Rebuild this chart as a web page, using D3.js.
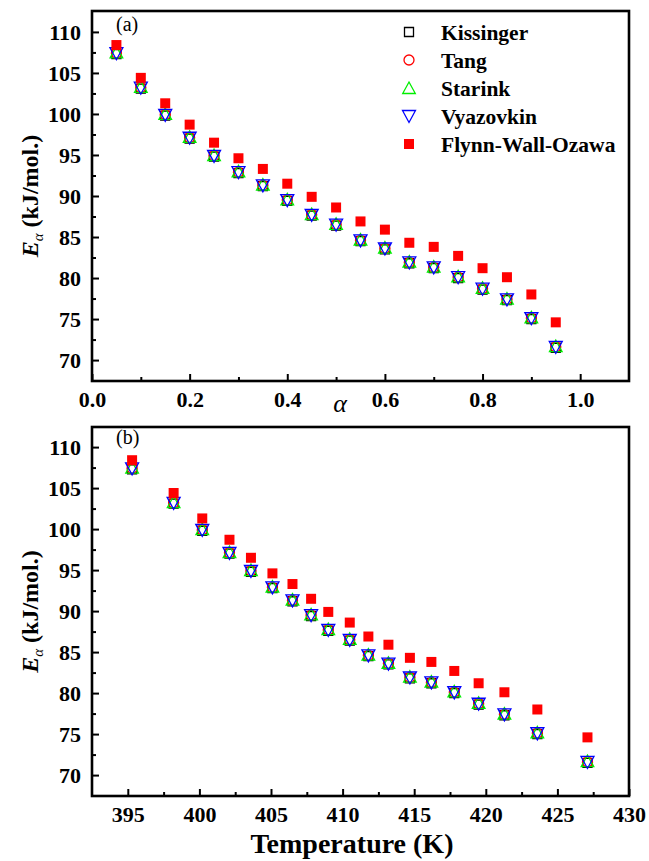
<!DOCTYPE html>
<html>
<head>
<meta charset="utf-8">
<script src="https://d3js.org/d3.v7.min.js"></script>
<style>
body { margin: 0; background: #fff; }
svg { display: block; }
</style>
</head>
<body>
<div id="container"></div>
<script>

// conversion degree and temperature for each point
var alpha = [0.05, 0.10, 0.15, 0.20, 0.25, 0.30, 0.35, 0.40, 0.45, 0.50,
             0.55, 0.60, 0.65, 0.70, 0.75, 0.80, 0.85, 0.90, 0.95];
var temperature = [395.3, 398.2, 400.2, 402.1, 403.6, 405.1, 406.5, 407.8, 409.0, 410.5,
                   411.8, 413.2, 414.7, 416.2, 417.8, 419.5, 421.3, 423.6, 427.1];

// activation energy (kJ/mol) per method
var kissinger = [107.3, 103.1, 99.8, 97.0, 94.8, 92.8, 91.2, 89.4, 87.6, 86.4,
                 84.5, 83.5, 81.8, 81.2, 80.0, 78.6, 77.3, 75.0, 71.5];
var tang      = [107.4, 103.2, 99.9, 97.1, 94.9, 92.9, 91.3, 89.5, 87.7, 86.5,
                 84.6, 83.6, 81.9, 81.3, 80.1, 78.7, 77.4, 75.1, 71.6];
var starink   = [107.5, 103.3, 100.0, 97.2, 95.0, 93.0, 91.4, 89.6, 87.8, 86.6,
                 84.7, 83.7, 82.0, 81.4, 80.2, 78.8, 77.5, 75.2, 71.7];
var vyazovkin = [107.4, 103.2, 99.9, 97.1, 94.9, 92.9, 91.3, 89.5, 87.7, 86.5,
                 84.6, 83.6, 81.9, 81.3, 80.1, 78.7, 77.4, 75.1, 71.6];
var fwo       = [108.4, 104.4, 101.3, 98.7, 96.5, 94.6, 93.3, 91.5, 89.9, 88.6,
                 86.9, 85.9, 84.3, 83.8, 82.7, 81.2, 80.1, 78.0, 74.6];

var seriesNames  = ["Kissinger", "Tang", "Starink", "Vyazovkin", "Flynn-Wall-Ozawa"];
var seriesValues = [kissinger, tang, starink, vyazovkin, fwo];
var seriesColors = ["#000000", "#ff0000", "#00ee00", "#0000ff", "#ff0000"];
var seriesShapes = ["square", "circle", "triangle", "down", "filled"];

var alphaTicks = [0.0, 0.2, 0.4, 0.6, 0.8, 1.0];
var alphaMinor = [0.1, 0.3, 0.5, 0.7, 0.9];
var tempTicks = [395, 400, 405, 410, 415, 420, 425, 430];
var tempMinor = [397.5, 402.5, 407.5, 412.5, 417.5, 422.5, 427.5];
var energyTicks = [70, 75, 80, 85, 90, 95, 100, 105, 110];
var energyMinor = [72.5, 77.5, 82.5, 87.5, 92.5, 97.5, 102.5, 107.5];

var width = 649, height = 861;
var left = 92, right = 629;
var serif = 'Liberation Serif';

var svg = d3.select('#container')
  .append('svg')
  .attr('width', width)
  .attr('height', height);

function marker(shape){
  if(shape == "square") return "M-4.5,-4.5H4.5V4.5H-4.5Z";
  if(shape == "filled") return "M-5,-5H5V5H-5Z";
  if(shape == "circle") return d3.symbol(d3.symbolCircle, Math.PI*25)();
  if(shape == "triangle") return "M0,-6L6.3,5.5H-6.3Z";
  if(shape == "down") return "M-6.5,-5.5H6.5L0,6.5Z";
}

var panels = [
  {top: 11, bottom: 381, x: d3.scaleLinear().domain([0, 1.1]), xv: alpha,
   ticks: alphaTicks, minor: alphaMinor, fmt: d3.format('.1f'),
   y: d3.scaleLinear().domain([67.45, 112.55]), tag: "(a)", tagY: 31, legend: true},
  {top: 427, bottom: 796, x: d3.scaleLinear().domain([392.5, 430]), xv: temperature,
   ticks: tempTicks, minor: tempMinor, fmt: d3.format('d'),
   y: d3.scaleLinear().domain([67.45, 112.45]), tag: "(b)", tagY: 444, legend: false}
];

panels.forEach(function(p){
  p.x.range([left, right]);
  p.y.range([p.bottom, p.top]);
  var g = svg.append('g');

  // minor ticks
  g.append('g').attr('transform', 'translate(0,' + p.bottom + ')')
    .call(d3.axisBottom(p.x).tickValues(p.minor).tickSize(-4).tickFormat(''))
    .call(function(a){ a.select('.domain').remove(); a.selectAll('line').attr('stroke-width', 2); });
  g.append('g').attr('transform', 'translate(' + left + ',0)')
    .call(d3.axisLeft(p.y).tickValues(energyMinor).tickSize(-4).tickFormat(''))
    .call(function(a){ a.select('.domain').remove(); a.selectAll('line').attr('stroke-width', 2); });

  // major ticks and labels
  var xa = g.append('g').attr('transform', 'translate(0,' + p.bottom + ')')
    .call(d3.axisBottom(p.x).tickValues(p.ticks).tickSize(-7).tickFormat(p.fmt));
  xa.select('.domain').remove();
  xa.selectAll('line').attr('stroke-width', 2);
  xa.selectAll('text').attr('y', 26).attr('dy', 0)
    .attr('font-family', serif)
    .attr('font-size', 22).attr('font-weight', 'bold').attr('fill', '#000');

  var ya = g.append('g').attr('transform', 'translate(' + left + ',0)')
    .call(d3.axisLeft(p.y).tickValues(energyTicks).tickSize(-7));
  ya.select('.domain').remove();
  ya.selectAll('line').attr('stroke-width', 2);
  ya.selectAll('text').attr('x', -11).attr('dy', '0.34em')
    .attr('font-family', serif)
    .attr('font-size', 22).attr('font-weight', 'bold').attr('fill', '#000');

  // frame
  g.append('rect')
    .attr('x', left).attr('y', p.top)
    .attr('width', right - left).attr('height', p.bottom - p.top)
    .attr('fill', 'none').attr('stroke', '#000').attr('stroke-width', 2.6);

  // y title
  var cy = (p.top + p.bottom) / 2;
  var yt = g.append('text')
    .attr('transform', 'translate(38,' + cy + ') rotate(-90)')
    .attr('text-anchor', 'middle')
    .attr('font-family', serif)
    .attr('font-size', 24).attr('font-weight', 'bold');
  yt.append('tspan').attr('font-style', 'italic').text('E');
  yt.append('tspan').attr('font-style', 'italic').attr('font-weight', 'normal')
    .attr('font-size', 15).attr('dy', 5).text('α');
  yt.append('tspan').attr('dy', -5).text(' (kJ/mol.)');

  // panel tag
  g.append('text').attr('x', 116).attr('y', p.tagY)
    .attr('font-family', serif)
    .attr('font-size', 20).text(p.tag);

  // points
  seriesValues.forEach(function(vals, s){
    g.selectAll(null)
      .data(vals)
      .enter()
      .append('path')
      .attr('d', marker(seriesShapes[s]))
      .attr('transform', function(d, i){ return 'translate(' + p.x(p.xv[i]) + ',' + p.y(d) + ')'; })
      .attr('fill', seriesShapes[s] == 'filled' ? seriesColors[s] : 'none')
      .attr('stroke', seriesShapes[s] == 'filled' ? 'none' : seriesColors[s])
      .attr('stroke-width', 1.3);
  });

  if(p.legend){
    var lg = g.append('g');
    seriesNames.forEach(function(name, s){
      var ly = 32 + s * 28;
      lg.append('path').attr('d', marker(seriesShapes[s]))
        .attr('transform', 'translate(409,' + ly + ')')
        .attr('fill', seriesShapes[s] == 'filled' ? seriesColors[s] : 'none')
        .attr('stroke', seriesShapes[s] == 'filled' ? 'none' : seriesColors[s])
        .attr('stroke-width', 1.3);
      lg.append('text').attr('x', 441).attr('y', ly + 8)
        .attr('font-family', serif)
        .attr('font-size', 21.5).attr('font-weight', 'bold').text(name);
    });
  }
});

// x titles
svg.append('text').attr('x', 340).attr('y', 412)
  .attr('font-family', serif)
  .attr('text-anchor', 'middle').attr('font-size', 26).attr('font-style', 'italic')
  .text('α');
svg.append('text').attr('x', 352).attr('y', 853)
  .attr('font-family', serif)
  .attr('text-anchor', 'middle').attr('font-size', 28).attr('font-weight', 'bold')
  .text('Temperature (K)');

</script>
</body>
</html>
